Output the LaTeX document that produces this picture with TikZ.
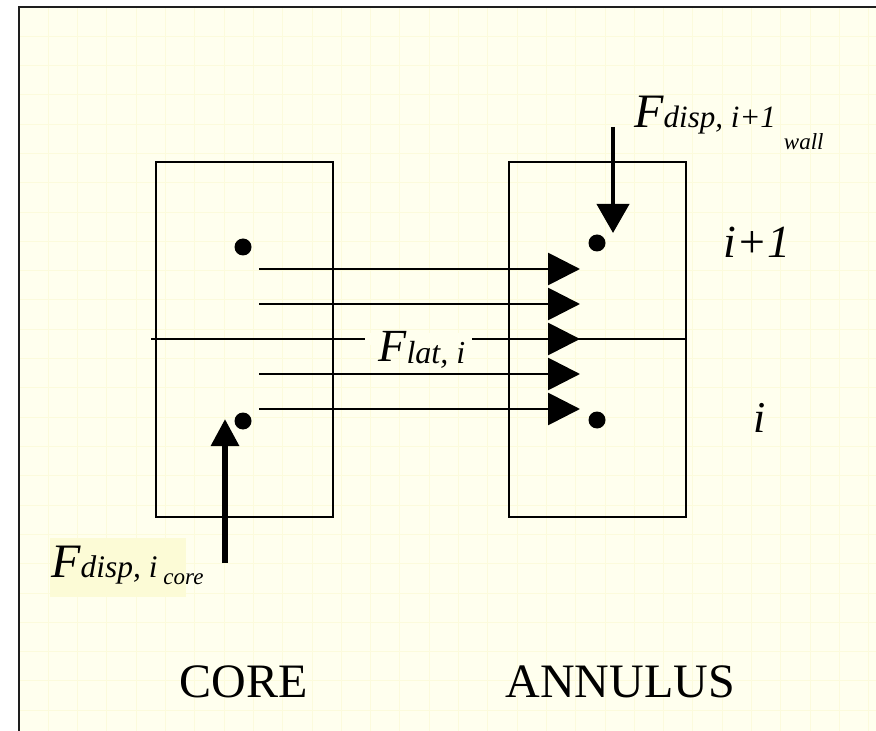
\documentclass[tikz,border=0pt]{standalone}
\usepackage{fontspec}
\setmainfont{Liberation Serif}
\usetikzlibrary{arrows.meta}

\definecolor{paper}{RGB}{255,255,238}
\definecolor{gridline}{RGB}{252,251,220}
\definecolor{hilite}{RGB}{252,251,214}
\definecolor{frameink}{RGB}{30,30,30}

\newcommand{\fsz}[1]{\fontsize{#1}{#1}\selectfont}

\begin{document}
\begin{tikzpicture}[x=0.5pt,y=-0.5pt,
  cellbox/.style={draw,line width=1pt,minimum width=88.5pt,minimum height=177.5pt,inner sep=0pt},
  dot/.style={circle,fill,inner sep=0pt,minimum size=8.5pt},
  flux/.style={line width=1.4pt,-{Triangle[length=16pt,width=16pt]}},
  lbl/.style={anchor=base west,inner sep=0pt,font=\itshape},
  word/.style={anchor=base west,inner sep=0pt,font=\fsz{24}}]

  \useasboundingbox (0,0) rectangle (876,731);
  \fill[white] (0,0) rectangle (876,731);
  \fill[paper] (19,7) rectangle (876,731);
  \foreach \gx in {48.3,77.6,...,876} \draw[gridline,line width=0.5pt] (\gx,7) -- (\gx,731);
  \foreach \gy in {36.3,65.6,...,731} \draw[gridline,line width=0.5pt] (19,\gy) -- (876,\gy);
  \draw[frameink,line width=1.4pt] (876,7) -- (19,7) -- (19,731);

  % cells
  \node[cellbox] (core) at (244.5,339.5) {};
  \node[cellbox] (annulus) at (597.5,339.5) {};
  \draw[line width=1pt] ([xshift=-2pt]core.west) -- (annulus.east);

  \node[dot] (ci1) at (243,247) {};
  \node[dot] (ci) at (243,421) {};
  \node[dot] (ai1) at (597,243) {};
  \node[dot] (ai) at (597,420) {};

  % lateral flux
  \foreach \k/\yy in {1/269,2/304,3/339,4/374,5/409} {
    \coordinate (s\k) at (259,\yy);
    \coordinate (e\k) at (580,\yy);
    \draw[flux] (s\k) -- (e\k);
  }

  % dispersion
  \coordinate (wtop) at (613,127);
  \coordinate (wtip) at (613,233);
  \draw[line width=2pt,-{Triangle[length=14.5pt,width=16pt]}] (wtop) -- (wtip);
  \coordinate (cbot) at (225,563);
  \coordinate (ctip) at (225,419);
  \draw[line width=3pt,-{Triangle[length=13.5pt,width=13.5pt]}] (cbot) -- (ctip);

  \node[lbl] (fwall) at (634,128)
    {\fsz{24}F\fsz{15.5}disp, i+1\hspace{4pt}\raisebox{-11pt}{\fsz{11.5}wall}};
  \fill[paper] (365,333) rectangle (472,345);
  \node[lbl] (flat) at (378,362)
    {\fsz{23}F\raisebox{-1pt}{\fsz{16}lat, i}};
  \fill[hilite] (50,538) rectangle (186,597);
  \node[lbl] (fcore) at (51,577)
    {\fsz{24}F\fsz{15.7}disp, i\hspace{3pt}\raisebox{-3.5pt}{\fsz{11.5}core}};

  \node[lbl] (upper) at (723,258) {\fsz{23}i+1};
  \node[lbl] (lower) at (753,432) {\fsz{22}i};

  \node[word] (corename) at (179,697) {CORE};
  \node[word] (annname) at (505,697) {ANNULUS};

\end{tikzpicture}
\end{document}
